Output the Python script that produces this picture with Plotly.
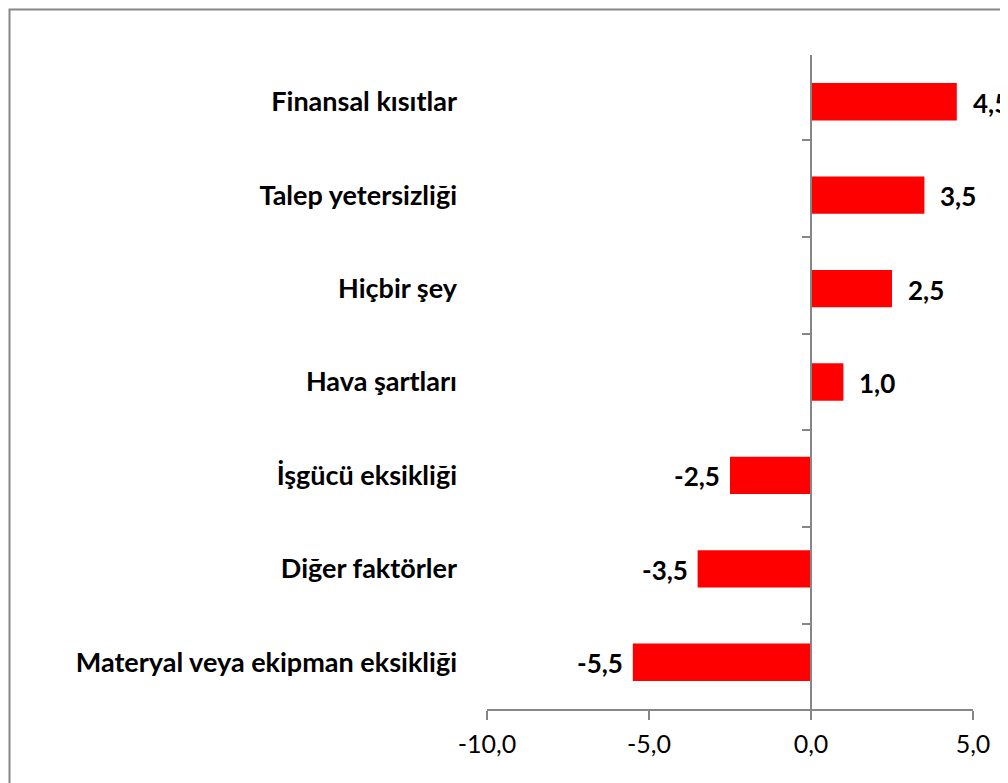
import plotly.graph_objects as go

categories = ["Finansal kısıtlar", "Talep yetersizliği", "Hiçbir şey", "Hava şartları",
              "İşgücü eksikliği", "Diğer faktörler", "Materyal veya ekipman eksikliği"]
values = [4.5, 3.5, 2.5, 1.0, -2.5, -3.5, -5.5]
x_tickvals = [-10, -5, 0, 5]
x_ticktext = ["-10,0", "-5,0", "0,0", "5,0"]

GRAY = "#868686"
FONT = "Lato"

fig = go.Figure()
fig.add_trace(go.Bar(
    x=values, y=categories, orientation="h", width=0.4,
    marker=dict(color="#FF0000", line=dict(width=0)),
    hoverinfo="skip", showlegend=False,
))
# invisible helper trace so the zero-line axis (y2) is drawn
fig.add_trace(go.Scatter(
    x=[0] * len(categories), y=categories, yaxis="y2", mode="markers",
    marker=dict(opacity=0), hoverinfo="skip", showlegend=False,
))

for c, v in zip(categories, values):
    lab = f"{v:.1f}".replace(".", ",")
    fig.add_annotation(
        x=v, y=c, text=f"<b>{lab}</b>", showarrow=False,
        xanchor="left" if v >= 0 else "right",
        xshift=14 if v >= 0 else -8,
        yshift=-1,
        font=dict(family=FONT, size=26, color="#000000"),
    )

# page body has an 8px offset; plot area placed at x 487..973, y 55..709 in the window
fig.update_layout(
    width=1000, height=775,
    margin=dict(l=479, r=35, t=47, b=74),
    paper_bgcolor="white", plot_bgcolor="white",
    xaxis=dict(
        range=[-10, 5], tickvals=x_tickvals, ticktext=x_ticktext,
        showgrid=False, zeroline=False, showline=True, linecolor=GRAY, linewidth=1.5,
        ticks="outside", ticklen=9, tickcolor=GRAY, tickwidth=1.5,
        ticklabelstandoff=3,
        tickfont=dict(family=FONT, size=25, color="#000000"),
    ),
    yaxis=dict(
        categoryorder="array", categoryarray=categories, autorange="reversed",
        showgrid=False, zeroline=False, showline=False, ticks="",
        ticklabelstandoff=29,
        tickfont=dict(family=FONT, size=27, color="#000000", weight="bold"),
    ),
    yaxis2=dict(
        overlaying="y", anchor="free", position=2 / 3, side="left",
        categoryorder="array", categoryarray=categories, autorange="reversed",
        showgrid=False, zeroline=False, showline=True, linecolor=GRAY, linewidth=1.5,
        ticks="outside", tickson="boundaries", ticklen=8, tickcolor=GRAY, tickwidth=1.5,
        showticklabels=False,
    ),
    shapes=[dict(
        type="rect", xref="paper", yref="paper",
        x0=(1.5 - 479) / 486, x1=(1030 - 479) / 486,
        y0=(701 - 820) / 654, y1=(701 - 1.5) / 654,
        line=dict(color=GRAY, width=2), fillcolor="rgba(0,0,0,0)", layer="below",
    )],
)

fig.write_html("out.html")
